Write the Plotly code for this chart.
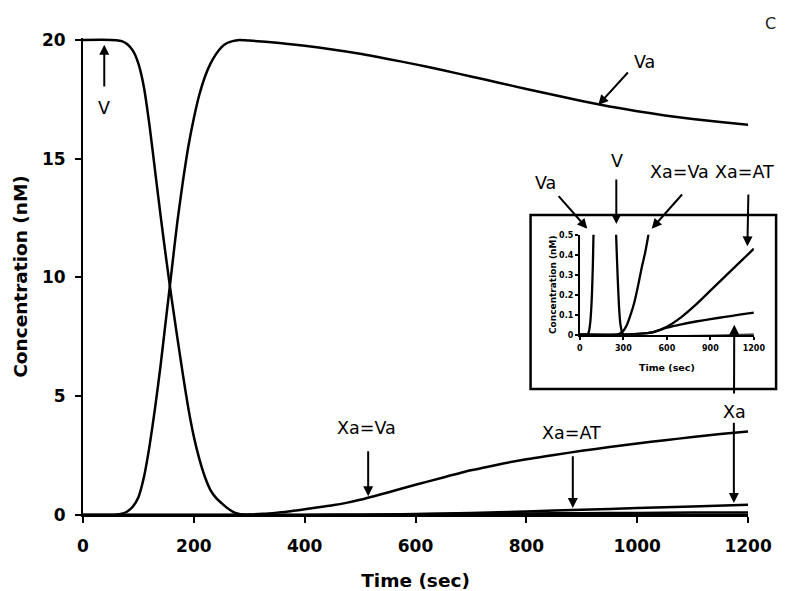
import plotly.graph_objects as go

# ---------------- data ----------------
t_V = [0, 50, 60, 70, 80, 90, 100, 110, 120, 130, 140, 150, 160, 170, 180, 190,
       200, 210, 220, 230, 240, 250, 260, 270, 280, 290, 300, 1200]
V = [20, 20, 19.99, 19.95, 19.82, 19.55, 19.0, 18.0, 16.4, 14.5, 12.6, 10.8, 9.1,
     7.5, 5.95, 4.5, 3.3, 2.35, 1.6, 1.05, 0.72, 0.5, 0.3, 0.14, 0.05, 0.015, 0, 0]

t_Va = [0, 50, 60, 70, 80, 90, 100, 110, 120, 130, 140, 150, 160, 170, 180, 190,
        200, 210, 220, 230, 240, 250, 260, 270, 280, 300, 350, 400, 450, 500, 550,
        600, 650, 700, 750, 800, 850, 900, 950, 1000, 1050, 1100, 1150, 1200]
Va = [0, 0, 0.01, 0.05, 0.15, 0.36, 0.75, 1.6, 2.9, 4.5, 6.3, 8.3, 10.3, 12.3,
      14.0, 15.5, 16.7, 17.7, 18.45, 19.0, 19.4, 19.7, 19.87, 19.95, 19.99, 19.97,
      19.88, 19.75, 19.6, 19.42, 19.2, 18.97, 18.72, 18.46, 18.2, 17.93, 17.68,
      17.43, 17.2, 17.0, 16.82, 16.67, 16.54, 16.43]

t_XaVa = [0, 260, 270, 280, 300, 325, 350, 375, 400, 425, 450, 475, 500, 525, 550,
          600, 650, 700, 750, 800, 850, 900, 950, 1000, 1050, 1100, 1150, 1200]
XaVa = [0, 0, 0.003, 0.008, 0.02, 0.05, 0.1, 0.16, 0.24, 0.33, 0.41, 0.51, 0.64,
        0.79, 0.95, 1.27, 1.58, 1.88, 2.13, 2.35, 2.53, 2.7, 2.86, 3.01, 3.15,
        3.28, 3.41, 3.52]

t_X = [0, 300, 400, 500, 600, 700, 800, 900, 1000, 1100, 1200]
XaAT = [0, 0, 0.004, 0.012, 0.04, 0.088, 0.15, 0.22, 0.29, 0.36, 0.43]
Xa = [0, 0, 0.004, 0.012, 0.035, 0.052, 0.066, 0.078, 0.089, 0.1, 0.11]

series = [("V", t_V, V), ("Va", t_Va, Va), ("Xa=Va", t_XaVa, XaVa),
          ("Xa=AT", t_X, XaAT), ("Xa", t_X, Xa)]

main_xticks = [0, 200, 400, 600, 800, 1000, 1200]
main_yticks = [0, 5, 10, 15, 20]
inset_xticks = [0, 300, 600, 900, 1200]
inset_yticks = [0, 0.1, 0.2, 0.3, 0.4, 0.5]

# ---------------- geometry helpers ----------------
W, H = 800, 591
ML, MR, MT, MB = 75, 5, 30, 84
PW = W - ML - MR
PH = H - MT - MB
BOTTOM = H - MB


def px(x):
    return (x - ML) / PW


def py(y):
    return (BOTTOM - y) / PH


FONT = "DejaVu Sans"

fig = go.Figure()
for name, t, v in series:
    fig.add_trace(go.Scatter(x=t, y=v, mode="lines", name=name,
                             line=dict(color="black", width=2.5,
                                       shape="spline", smoothing=0.6),
                             xaxis="x", yaxis="y", showlegend=False))
for name, t, v in series:
    fig.add_trace(go.Scatter(x=t, y=v, mode="lines", name=name,
                             line=dict(color="black", width=2.3,
                                       shape="spline", smoothing=0.6),
                             xaxis="x2", yaxis="y2", showlegend=False))

axis_common = dict(showgrid=False, zeroline=False, showline=True,
                   linecolor="black", ticks="outside", tickcolor="black")

fig.update_layout(
    width=W, height=H,
    margin=dict(l=ML, r=MR, t=MT, b=MB),
    paper_bgcolor="white", plot_bgcolor="white",
    font=dict(family=FONT, color="black"),
    xaxis=dict(**axis_common, domain=[0, px(763)], range=[0, 1200],
               tickvals=main_xticks, linewidth=2, tickwidth=2, ticklen=6,
               ticklabelstandoff=9,
               tickfont=dict(family=FONT, size=17, weight="bold"),
               title=dict(text="Time (sec)", standoff=19,
                          font=dict(family=FONT, size=18.5, weight="bold"))),
    yaxis=dict(**axis_common, domain=[0, 1], range=[0, 20.08],
               tickvals=main_yticks, linewidth=2, tickwidth=2, ticklen=6,
               ticklabelstandoff=6,
               tickfont=dict(family=FONT, size=17, weight="bold"),
               title=dict(text="Concentration (nM)", standoff=9,
                          font=dict(family=FONT, size=18.5, weight="bold"))),
    xaxis2=dict(**axis_common, domain=[px(589), px(769)], anchor="y2",
                range=[0, 1200], tickvals=inset_xticks, linewidth=2,
                tickwidth=1.5, ticklen=3, ticklabelstandoff=2,
                tickfont=dict(family=FONT, size=8, weight="bold"),
                title=dict(text="Time (sec)", standoff=12,
                           font=dict(family=FONT, size=9.5, weight="bold"))),
    yaxis2=dict(**axis_common, domain=[py(326.7), py(226.7)], anchor="x2",
                range=[0, 0.5], tickvals=inset_yticks, linewidth=2,
                tickwidth=1.5, ticklen=3,
                tickfont=dict(family=FONT, size=8, weight="bold"),
                title=dict(text="Concentration (nM)", standoff=1,
                           font=dict(family=FONT, size=9, weight="bold"))),
)

# inset frame
fig.add_shape(type="rect", xref="paper", yref="paper",
              x0=px(538), x1=px(792), y0=py(381), y1=py(207),
              line=dict(color="black", width=2.5))

# labels (text centre, pixel positions)
labels = [("V", 97, 100), ("Va", 656, 54), ("Xa=Va", 368, 420),
          ("Xa=AT", 580, 425), ("Xa", 749, 404),
          ("Va", 553, 175), ("V", 627, 153), ("Xa=Va", 692, 164),
          ("Xa=AT", 759, 164)]
for txt, x, y in labels:
    fig.add_annotation(text=txt, xref="paper", yref="paper", x=px(x), y=py(y),
                       showarrow=False, xanchor="center", yanchor="middle",
                       font=dict(family=FONT, size=17.5, color="black"))

fig.add_annotation(text="C", xref="paper", yref="paper", x=px(786), y=py(15),
                   showarrow=False, xanchor="center", yanchor="middle",
                   font=dict(family=FONT, size=16, color="#222"))

# arrows: (tail x, tail y, head x, head y) in pixels
arrows = [(97, 80, 97, 36.7), (639, 63, 608, 97), (370, 441.7, 370, 488.3),
          (581.7, 446.7, 581.7, 500), (748.3, 413.3, 748.3, 495),
          (748.5, 387, 748.7, 316.7),
          (566.7, 186.7, 596.7, 220.7), (626.7, 170, 626.7, 216),
          (695, 185, 663.3, 220.7), (763.3, 185, 762.3, 238.3)]
for tx, ty, hx, hy in arrows:
    fig.add_annotation(text="", xref="paper", yref="paper", x=px(hx), y=py(hy),
                       ax=tx - hx, ay=ty - hy, axref="pixel", ayref="pixel",
                       showarrow=True, arrowhead=2, arrowsize=1, arrowwidth=2,
                       arrowcolor="black", standoff=0, startstandoff=0)

fig.write_html("out.html")
